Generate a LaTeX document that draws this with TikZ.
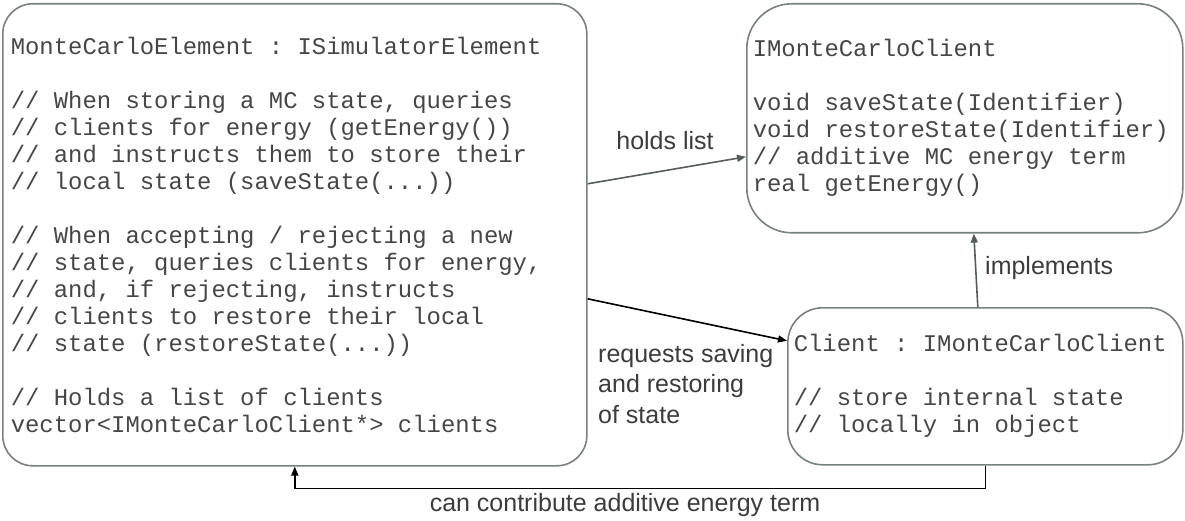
\documentclass[tikz,border=0pt]{standalone}
\usepackage{fontspec}
\setmainfont{Liberation Sans}
\setmonofont[WordSpace={1,0,0}]{Liberation Mono}
\usetikzlibrary{arrows.meta}
\definecolor{boxline}{RGB}{120,128,128}
\definecolor{codetext}{RGB}{70,70,70}
\definecolor{labeltext}{RGB}{60,60,60}
\definecolor{grayarrow}{RGB}{85,92,92}
\newcommand{\naturalspaces}{\spaceskip=0pt\xspaceskip=0pt\relax}
\begin{document}
\begin{tikzpicture}[x=1pt,y=-1pt,
  box/.style={draw=boxline, line width=1.6pt, anchor=north west, inner ysep=0pt,
    align=left, text=codetext, font=\ttfamily\fontsize{23.9}{27}\selectfont},
  lbl/.style={text=labeltext, font=\fontsize{25}{30.5}\selectfont, inner sep=0pt},
  grayconn/.style={draw=grayarrow, line width=1.6pt, -{Triangle[length=9pt,width=7pt]}},
  blackconn/.style={draw=black, line width=1.6pt, -{Triangle[length=9pt,width=7pt]}}]
\useasboundingbox (0,0) rectangle (1185,521);

\node[box, rounded corners=30pt, inner xsep=8pt, text width=568pt, minimum width=584pt, minimum height=462pt] (A) at (2,3)
{\naturalspaces MonteCarloElement : ISimulatorElement\\[27pt]
// When storing a MC state, queries\\
// clients for energy (getEnergy())\\
// and instructs them to store their\\
// local state (saveState(...))\\[27pt]
// When accepting / rejecting a new\\
// state, queries clients for energy,\\
// and, if rejecting, instructs\\
// clients to restore their local\\
// state (restoreState(...))\\[27pt]
// Holds a list of clients\\
vector<IMonteCarloClient*> clients};

\node[box, rounded corners=45pt, inner xsep=6pt, text width=424pt, minimum width=436pt, minimum height=229pt] (B) at (746,3)
{\naturalspaces IMonteCarloClient\\[27pt]
void saveState(Identifier)\\
void restoreState(Identifier)\\
// additive MC energy term\\
real getEnergy()};

\node[box, rounded corners=35pt, inner xsep=6pt, text width=383pt, minimum width=395pt, minimum height=157pt] (C) at (787,307)
{\naturalspaces Client : IMonteCarloClient\\[27pt]
// store internal state\\
// locally in object};

\coordinate (h1) at ([yshift=51pt]A.east);
\coordinate (h2) at ([yshift=-38.5pt]B.west);
\draw[grayconn] (h1) -- (h2);
\node[lbl] (holds) at (665,141) {holds list};

\coordinate (r1) at ([yshift=-64pt]A.east);
\coordinate (r2) at ([yshift=45.5pt]C.west);
\draw[blackconn] (r1) -- (r2);
\node[lbl, anchor=north west, align=left] (req) at (598,344) {requests saving\\and restoring\\of state};

\coordinate (i1) at ([xshift=-7.5pt]C.north);
\coordinate (i2) at ([xshift=9pt]B.south);
\draw[grayconn] (i1) -- (i2);
\node[lbl, anchor=west] (impl) at (985,268) {implements};

\draw[blackconn] (C.south) -- ++(0,23) -| (A.south);
\node[lbl] (contrib) at (625,505) {can contribute additive energy term};
\end{tikzpicture}
\end{document}
